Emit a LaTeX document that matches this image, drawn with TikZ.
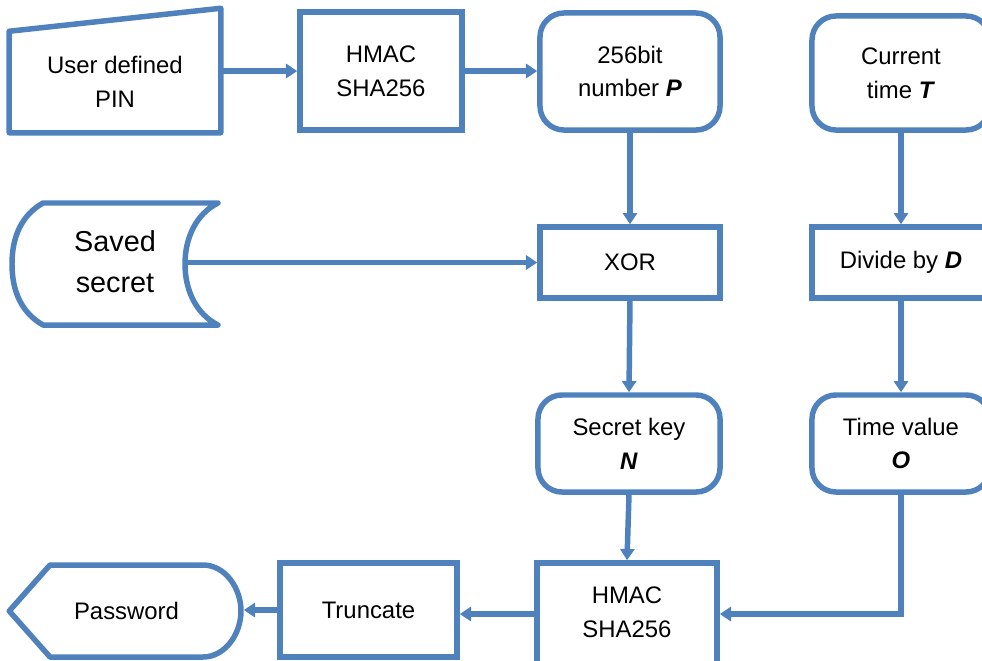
\documentclass[tikz,border=0pt]{standalone}
\usepackage{fontspec}
\setmainfont{Liberation Sans}
\usepackage{xcolor}
\usetikzlibrary{arrows.meta,calc,positioning}
\definecolor{flowblue}{RGB}{79,129,189}

\begin{document}
\begin{tikzpicture}[x=0.025cm, y=-0.025cm,
		blk/.style={draw=flowblue, line width=3.9pt, inner sep=0pt, align=center, font=\fontsize{17}{24}\selectfont},
		rblk/.style={blk, rounded corners=0.6cm},
		ghost/.style={blk, draw=none},
		outline/.style={draw=flowblue, line width=3.9pt, line join=round},
		flow/.style={draw=flowblue, line width=3.9pt, -{Triangle[length=8pt,width=10pt]}}]
		\clip (0,0) rectangle (982,660);
		% top row
		\node [ghost, minimum width=5.15cm, minimum height=2.4cm] (pin) at (115,82) {User defined\\PIN};
		\draw [outline] (pin.south west) -- (pin.north west) -- ($(pin.north east)+(0,-23)$) -- (pin.south east) -- cycle;
		\node [blk, minimum width=4.05cm, minimum height=2.95cm] (hmac1) at (381,71) {HMAC\\SHA256};
		\node [rblk, minimum width=4.5cm, minimum height=2.925cm] (pnum) at (630,71.5) {256bit\\number \textbf{\emph{P}}};
		\node [rblk, minimum width=4.45cm, minimum height=2.85cm] (ctime) at (901,73) {Current\\time \textbf{\emph{T}}};
		% middle rows
		\node [ghost, minimum width=5.15cm, minimum height=3.05cm, font=\fontsize{20.5}{29}\selectfont] (saved) at (115,262) {Saved\\secret};
		\draw [outline] (43,203) -- (218,203) .. controls (196,214) and (185,238) .. (185,264) .. controls (185,290) and (196,314) .. (218,325) -- (43,325) .. controls (22,313) and (12,292) .. (12,264) .. controls (12,236) and (22,215) .. (43,203) -- cycle;
		\coordinate (savedout) at (185,264);
		\node [blk, minimum width=4.5cm, minimum height=1.775cm] (xor) at (630,262.5) {XOR};
		\node [blk, minimum width=4.45cm, minimum height=1.775cm] (divd) at (901,262.5) {Divide by \textbf{\emph{D}}};
		\node [rblk, minimum width=4.55cm, minimum height=2.425cm] (skey) at (629,443.5) {Secret key\\\textbf{\emph{N}}};
		\node [rblk, minimum width=4.45cm, minimum height=2.425cm] (tval) at (901,443.5) {Time value\\\textbf{\emph{O}}};
		% bottom row
		\node [blk, minimum width=4.5cm, minimum height=2.55cm] (hmac2) at (627,614) {\raisebox{3.5pt}{\begin{tabular}{@{}c@{}}HMAC\\SHA256\end{tabular}}};
		\node [blk, minimum width=4.425cm, minimum height=2.35cm] (trunc) at (368.5,610) {Truncate};
		\node [ghost, minimum width=5.725cm, minimum height=2.3cm] (pwd) at (126.5,611) {Password};
		\draw [outline] (pwd.west) -- (50,565) -- (203,565) .. controls (225,565) and (241,588) .. (241,611) .. controls (241,634) and (225,657) .. (203,657) -- (50,657) -- cycle;
		% connectors
		\draw [flow] (pin.east |- hmac1.west) -- (hmac1.west);
		\draw [flow] (hmac1.east) -- (pnum.west |- hmac1.east);
		\draw [flow] (pnum.south) -- (xor.north);
		\draw [flow] (savedout |- xor.west) -- (xor.west);
		\draw [flow] (ctime.south) -- (divd.north);
		\draw [flow] (divd.south) -- (tval.north);
		\draw [flow] (xor.south) -- (skey.north);
		\draw [flow] (skey.south) -- (hmac2.north);
		\draw [flow] (tval.south) |- (hmac2.east);
		\draw [flow] (hmac2.west) -- (hmac2.west -| trunc.east);
		\draw [flow] (trunc.west) -- (trunc.west -| pwd.east);
	\end{tikzpicture}
\end{document}
